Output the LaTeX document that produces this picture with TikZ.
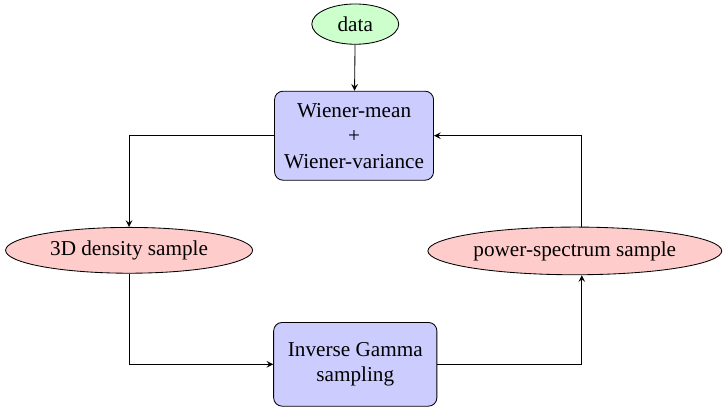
\documentclass[tikz,border=0pt]{standalone}
\usepackage{fontspec}
\setmainfont{Liberation Serif}
\usetikzlibrary{arrows, shapes, positioning}

\begin{document}
\begin{tikzpicture}[->,>=stealth,line width=0.4pt]

	\tikzset{data st/.style={ellipse, draw, fill=green!20,
			minimum width=41pt, minimum height=19pt, inner sep=1pt}}
	\tikzset{box st/.style={rectangle, rounded corners=4pt, draw,
			fill=blue!20, align=center, inner sep=2pt}}
	\tikzset{sample st/.style={ellipse, draw, fill=red!20,
			inner sep=1pt}}

	\useasboundingbox (0,0) rectangle (12.02,-6.85);

	\node[data st] (D) at (5.89,-0.40) {data};
	\node[box st, minimum width=75pt, minimum height=42pt] (W) at (5.87,-2.25)
		{Wiener-mean\\+\\Wiener-variance};
	\node[sample st, minimum width=116.5pt, minimum height=21.6pt] (S) at (2.14,-4.15)
		{3D density sample};
	\node[sample st, minimum width=138.6pt, minimum height=22.5pt] (P) at (9.53,-4.16)
		{power-spectrum sample};
	\node[box st, minimum width=77pt, minimum height=39.5pt] (G) at (5.89,-6.04)
		{Inverse Gamma\\sampling};

	\draw (D) -- (W);
	\draw (W.west) -| (S.north);
	\draw (S.south) |- (G.west);
	\draw (G.east) -| ([xshift=3.3pt]P.south);
	\draw ([xshift=3.3pt]P.north) |- (W.east);

\end{tikzpicture}
\end{document}
